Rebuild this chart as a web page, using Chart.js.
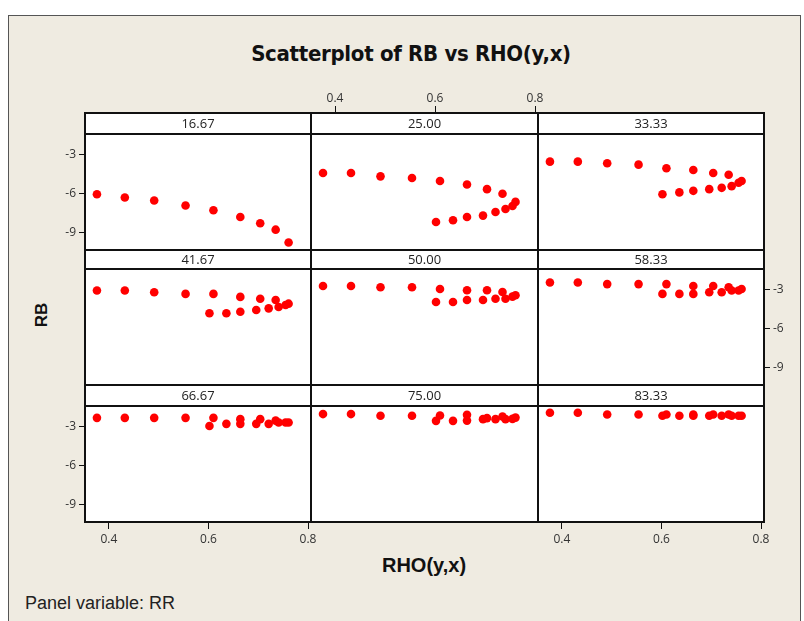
<!DOCTYPE html>
<html>
<head>
<meta charset="utf-8">
<script src="https://cdn.jsdelivr.net/npm/chart.js@4.4.1/dist/chart.umd.min.js"></script>
<style>
  body { margin: 0; background: #fff; }
  #page { position: relative; width: 804px; height: 621px; overflow: hidden; background: #fff; }
  #frame { position: absolute; left: 8px; top: 15px; width: 793px; height: 620px; background: #efebe1; border: 1px solid #555; box-sizing: border-box; }
  canvas.panel { position: absolute; }
  .txt { position: absolute; white-space: nowrap; color: #111; }
  #title { left: 0; width: 822px; top: 41px; text-align: center; font: bold 22px "Liberation Sans Narrow", "DejaVu Sans Condensed", sans-serif; letter-spacing: -0.3px; }
  #ylab { left: 42px; top: 315px; transform: translate(-50%, -50%) rotate(-90deg); font: bold 17px "Liberation Sans", sans-serif; }
  #xlab { left: 424px; top: 565px; transform: translate(-50%, -50%); font: bold 20px "Liberation Sans Narrow", sans-serif; }
  #panelvar { left: 25px; top: 593px; font: 18px "Liberation Sans Narrow", sans-serif; color: #222; }
</style>
</head>
<body>
<div id="page">
  <div id="frame"></div>
  <div class="txt" id="title">Scatterplot of RB vs RHO(y,x)</div>
  <div class="txt" id="ylab">RB</div>
  <div class="txt" id="xlab">RHO(y,x)</div>
  <div class="txt" id="panelvar">Panel variable: RR</div>
</div>
<script>
/* ---------- data ---------- */
const panelLabels = ['16.67', '25.00', '33.33', '41.67', '50.00', '58.33', '66.67', '75.00', '83.33'];

// RHO(y,x) of the two branches that every panel shares
const rhoUpper = [0.376, 0.432, 0.491, 0.554, 0.610, 0.664, 0.704, 0.735];
const rhoLower = [0.602, 0.636, 0.664, 0.696, 0.721, 0.741, 0.755, 0.761];

// RB per panel, upper and lower branch
const rb1667Up = [-6.07, -6.32, -6.55, -6.94, -7.30, -7.82, -8.30, -8.79];
const rb1667Lo = [null, null, null, null, null, null, null, -9.77];
const rb2500Up = [-4.44, -4.44, -4.70, -4.83, -5.06, -5.32, -5.68, -6.04];
const rb2500Lo = [-8.20, -8.07, -7.82, -7.71, -7.43, -7.20, -6.97, -6.66];
const rb3333Up = [-3.57, -3.57, -3.69, -3.80, -4.08, -4.21, -4.44, -4.58];
const rb3333Lo = [-6.07, -5.93, -5.81, -5.68, -5.58, -5.45, -5.19, -5.06];
const rb4167Up = [-3.10, -3.10, -3.23, -3.36, -3.36, -3.59, -3.73, -3.83];
const rb4167Lo = [-4.85, -4.85, -4.73, -4.60, -4.47, -4.37, -4.21, -4.11];
const rb5000Up = [-2.75, -2.75, -2.85, -2.85, -2.98, -3.08, -3.08, -3.21];
const rb5000Lo = [-3.98, -3.98, -3.83, -3.83, -3.73, -3.73, -3.57, -3.46];
const rb5833Up = [-2.49, -2.49, -2.61, -2.61, -2.61, -2.75, -2.75, -2.85];
const rb5833Lo = [-3.36, -3.36, -3.36, -3.23, -3.23, -3.10, -3.10, -2.98];
const rb6667Up = [-2.36, -2.36, -2.36, -2.36, -2.36, -2.46, -2.46, -2.57];
const rb6667Lo = [-2.98, -2.82, -2.82, -2.82, -2.82, -2.72, -2.72, -2.72];
const rb7500Up = [-2.07, -2.07, -2.20, -2.20, -2.18, -2.13, -2.38, -2.26];
const rb7500Lo = [-2.59, -2.59, -2.57, -2.46, -2.46, -2.46, -2.44, -2.34];
const rb8333Up = [-1.97, -1.97, -2.10, -2.10, -2.10, -2.10, -2.10, -2.10];
const rb8333Lo = [-2.20, -2.20, -2.20, -2.20, -2.20, -2.20, -2.20, -2.20];

const rbUpper = [rb1667Up, rb2500Up, rb3333Up, rb4167Up, rb5000Up, rb5833Up, rb6667Up, rb7500Up, rb8333Up];
const rbLower = [rb1667Lo, rb2500Lo, rb3333Lo, rb4167Lo, rb5000Lo, rb5833Lo, rb6667Lo, rb7500Lo, rb8333Lo];

const rhoTicks = [0.4, 0.6, 0.8];
const rbTicks = [-3, -6, -9];

/* ---------- layout ---------- */
const M = 50;                        // canvas margin round each plot area
const colX = [85, 311, 538, 764];
const rowY = [134, 269, 406];
const plotH = 116;
const stripH = [21, 19, 21];
const tickFont = { family: 'Open Sans, sans-serif', size: 12 };

// white plot area, then frame + strip with the RR value on top
const panelFrame = {
    id: 'panelFrame',
    beforeDraw(chart, args, opts) {
        const a = chart.chartArea, ctx = chart.ctx;
        ctx.save();
        ctx.fillStyle = '#fff';
        ctx.fillRect(a.left, a.top, a.right - a.left, a.bottom - a.top);
        ctx.restore();
    },
    afterDraw(chart, args, opts) {
        const a = chart.chartArea, ctx = chart.ctx;
        const top = a.top - opts.strip;
        ctx.save();
        ctx.fillStyle = '#fff';
        ctx.fillRect(a.left, top, a.right - a.left, opts.strip);
        ctx.strokeStyle = '#111';
        ctx.lineWidth = 2;
        ctx.strokeRect(a.left, a.top, a.right - a.left, a.bottom - a.top);
        ctx.strokeRect(a.left, top, a.right - a.left, opts.strip);
        ctx.fillStyle = '#222';
        ctx.font = '13px "Open Sans", sans-serif';
        ctx.textAlign = 'center';
        ctx.textBaseline = 'middle';
        ctx.fillText(opts.label, (a.left + a.right) / 2, top + opts.strip / 2 + 1);
        ctx.restore();
    }
};

function makePanel(i) {
    const r = Math.floor(i / 3), c = i % 3;
    const showLeft = c === 0 && r !== 1;
    const showRight = c === 2 && r === 1;
    const showTop = r === 0 && c === 1;
    const showBottom = r === 2 && c !== 1;
    const showX = showTop || showBottom, showY = showLeft || showRight;
    const w = colX[c + 1] - colX[c];

    const canvas = document.createElement('canvas');
    canvas.className = 'panel';
    canvas.width = w + 2 * M;
    canvas.height = plotH + 2 * M;
    canvas.style.left = (colX[c] - M) + 'px';
    canvas.style.top = (rowY[r] - M) + 'px';
    document.getElementById('page').appendChild(canvas);

    const upper = rhoUpper.map((x, k) => ({ x, y: rbUpper[i][k] }));
    const lower = rhoLower.map((x, k) => ({ x, y: rbLower[i][k] }));

    new Chart(canvas, {
        type: 'scatter',
        data: {
            datasets: [
                { data: upper, pointRadius: 4.3, pointBackgroundColor: '#ff0000', pointBorderWidth: 0 },
                { data: lower, pointRadius: 4.3, pointBackgroundColor: '#ff0000', pointBorderWidth: 0 }
            ]
        },
        plugins: [panelFrame],
        options: {
            responsive: false,
            animation: false,
            devicePixelRatio: 1,
            layout: {
                padding: {
                    left: showLeft ? 0 : M,
                    right: showRight ? 0 : M,
                    top: showTop ? 0 : M,
                    bottom: showBottom ? 0 : M
                }
            },
            plugins: {
                legend: { display: false },
                tooltip: { enabled: false },
                panelFrame: { label: panelLabels[i], strip: stripH[r] }
            },
            scales: {
                x: {
                    type: 'linear',
                    position: showTop ? 'top' : 'bottom',
                    display: showX,
                    min: 0.352,
                    max: 0.806,
                    afterBuildTicks: s => { s.ticks = rhoTicks.map(v => ({ value: v })); },
                    afterFit: s => { s.height = showX ? M : 0; },
                    border: { display: false },
                    grid: { drawOnChartArea: false, tickLength: showTop ? stripH[r] + 7 : 7, color: '#111', lineWidth: 1 },
                    ticks: { color: '#333', font: tickFont, padding: showTop ? 0 : 3, maxRotation: 0, callback: v => v.toFixed(1) }
                },
                y: {
                    type: 'linear',
                    position: showRight ? 'right' : 'left',
                    display: showY,
                    min: -10.35,
                    max: -1.45,
                    afterBuildTicks: s => { s.ticks = rbTicks.map(v => ({ value: v })); },
                    afterFit: s => { s.width = showY ? M : 0; },
                    border: { display: false },
                    grid: { drawOnChartArea: false, tickLength: 6, color: '#111', lineWidth: 1 },
                    ticks: { color: '#333', font: tickFont, padding: 3, callback: v => String(v) }
                }
            }
        }
    });
}

for (let i = 0; i < 9; i++) makePanel(i);
</script>
</body>
</html>
